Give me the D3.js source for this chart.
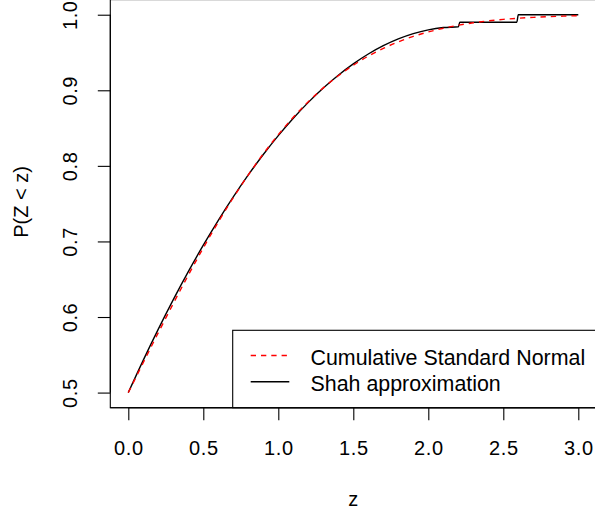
<!DOCTYPE html>
<html>
<head>
<meta charset="utf-8">
<script src="https://cdn.jsdelivr.net/npm/d3@7"></script>
<style>
html,body{margin:0;padding:0;background:#fff;}
svg{display:block;}
text{font-family:"Liberation Sans",Arial,Helvetica,sans-serif;fill:#000;}
</style>
</head>
<body>
<svg id="chart" width="595" height="515"></svg>
<script>
// ---- data ----
const normalZ = [0,0.1,0.2,0.3,0.4,0.5,0.6,0.7,0.8,0.9,1.0,1.1,1.2,1.3,1.4,1.5,1.6,1.7,1.8,1.9,2.0,2.1,2.2,2.3,2.4,2.5,2.6,2.7,2.8,2.9,3.0];
const normalP = [0.5,0.5398,0.5793,0.6179,0.6554,0.6915,0.7257,0.7580,0.7881,0.8159,0.8413,0.8643,0.8849,0.9032,0.9192,0.9332,0.9452,0.9554,0.9641,0.9713,0.9772,0.9821,0.9861,0.9893,0.9918,0.9938,0.9953,0.9965,0.9974,0.9981,0.9987];
const shahZ = [0,0.1,0.2,0.3,0.4,0.5,0.6,0.7,0.8,0.9,1.0,1.1,1.2,1.3,1.4,1.5,1.6,1.7,1.8,1.9,2.0,2.1,2.2,2.21,2.59,2.6,3.0];
const shahP = [0.5,0.543,0.584,0.623,0.66,0.695,0.728,0.759,0.788,0.815,0.84,0.863,0.884,0.903,0.92,0.935,0.948,0.959,0.968,0.975,0.98,0.983,0.984,0.99,0.99,1.0,1.0];
const xTicks = [0,0.5,1.0,1.5,2.0,2.5,3.0];
const xTickLabels = ["0.0","0.5","1.0","1.5","2.0","2.5","3.0"];
const yTicks = [0.5,0.6,0.7,0.8,0.9,1.0];
const yTickLabels = ["0.5","0.6","0.7","0.8","0.9","1.0"];
const legendLabels = ["Cumulative Standard Normal","Shah approximation"];
const seriesColors = ["#ff0000","#000000"];

// ---- layout ----
const svg = d3.select("#chart");
const plotL = 110.3, plotR = 596.3, plotT = -0.4, plotB = 407.7;
const x = d3.scaleLinear().domain([-0.12, 3.12]).range([plotL, plotR]);
const y = d3.scaleLinear().domain([0.48, 1.02]).range([plotB, plotT]);

// box
svg.append("rect")
  .attr("x", plotL).attr("y", plotT)
  .attr("width", plotR - plotL).attr("height", plotB - plotT)
  .attr("fill", "none").attr("stroke", "#000").attr("stroke-width", 1.1);

// x axis
const xAxis = d3.axisBottom(x).tickValues(xTicks)
  .tickFormat((d,i) => xTickLabels[i]).tickSizeInner(12.5).tickSizeOuter(0).tickPadding(0);
const gx = svg.append("g").attr("transform", `translate(0,${plotB})`).call(xAxis);
gx.select(".domain").attr("d", `M${x(0)},0H${x(3)}`).attr("stroke-width", 1.1);
gx.selectAll(".tick line").attr("stroke-width", 1.1);
gx.selectAll(".tick text").attr("y", 47).attr("dy", null)
  .style("font-size", "20px").style("font-family", '"Liberation Sans",Arial,sans-serif')
  .attr("letter-spacing", "0.6px");

// y axis
const yAxis = d3.axisLeft(y).tickValues(yTicks)
  .tickFormat((d,i) => yTickLabels[i]).tickSizeInner(12.5).tickSizeOuter(0).tickPadding(0);
const gy = svg.append("g").attr("transform", `translate(${plotL},0)`).call(yAxis);
gy.select(".domain").attr("d", `M0,${y(0.5)}V${y(1.0)}`).attr("stroke-width", 1.1);
gy.selectAll(".tick line").attr("stroke-width", 1.1);
gy.selectAll(".tick text")
  .attr("x", null).attr("dy", null)
  .attr("transform", "translate(-33,0) rotate(-90)")
  .attr("x", 0).attr("y", 0)
  .attr("text-anchor", "middle")
  .style("font-size", "20px").style("font-family", '"Liberation Sans",Arial,sans-serif')
  .attr("letter-spacing", "0.6px");

// axis titles
svg.append("text").attr("x", 353.3).attr("y", 506)
  .attr("text-anchor", "middle").style("font-size", "20px").text("z");
svg.append("text").attr("transform", "translate(27.5,202) rotate(-90)")
  .attr("text-anchor", "middle").style("font-size", "20px").text("P(Z < z)");

// lines
const normalData = normalZ.map((z,i) => [z, normalP[i]]);
const shahData = shahZ.map((z,i) => [z, shahP[i]]);
const line = d3.line().x(d => x(d[0])).y(d => y(d[1])).curve(d3.curveMonotoneX);

svg.append("path").datum(shahData).attr("d", line)
  .attr("fill", "none").attr("stroke", seriesColors[1]).attr("stroke-width", 1.4);
svg.append("path").datum(normalData).attr("d", line)
  .attr("fill", "none").attr("stroke", seriesColors[0]).attr("stroke-width", 1.4)
  .attr("stroke-dasharray", "5.3,5");

// legend
const lg = svg.append("g");
lg.append("rect").attr("x", 232.7).attr("y", 330.3)
  .attr("width", 400).attr("height", plotB - 330.3)
  .attr("fill", "#fff").attr("stroke", "#000").attr("stroke-width", 1.1);
const lineYs = [355.5, 381.8];
const textYs = [364.8, 390.5];
legendLabels.forEach((lab, i) => {
  lg.append("line").attr("x1", 250.7).attr("x2", 289.3)
    .attr("y1", lineYs[i]).attr("y2", lineYs[i])
    .attr("stroke", seriesColors[i]).attr("stroke-width", 1.4)
    .attr("stroke-dasharray", i === 0 ? "5.3,5" : null);
  lg.append("text").attr("x", 310.5).attr("y", textYs[i])
    .style("font-size", "21.4px").text(lab);
});
// redraw box bottom edge over legend
svg.append("line").attr("x1", plotL).attr("x2", plotR).attr("y1", plotB).attr("y2", plotB)
  .attr("stroke", "#000").attr("stroke-width", 1.1);
</script>
</body>
</html>
